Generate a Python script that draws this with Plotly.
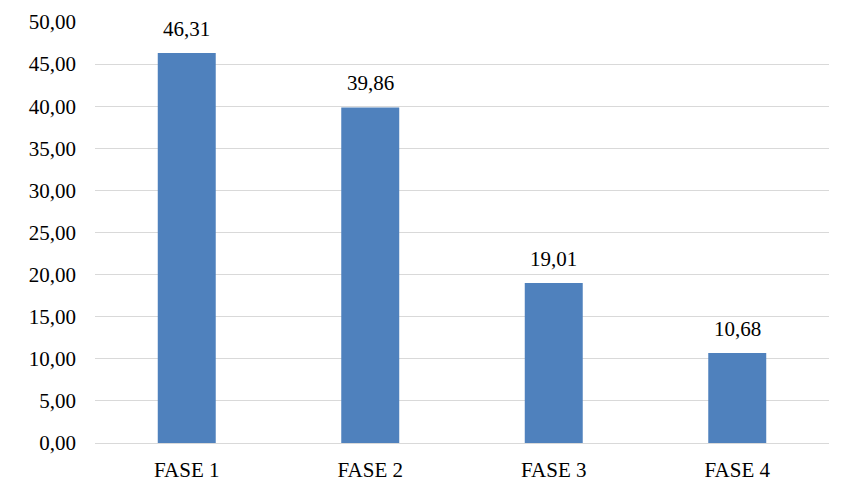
import plotly.graph_objects as go

categories = ["FASE 1", "FASE 2", "FASE 3", "FASE 4"]
values = [46.31, 39.86, 19.01, 10.68]
y_ticks = [0, 5, 10, 15, 20, 25, 30, 35, 40, 45, 50]

FONT = "Liberation Serif, Times New Roman, serif"

fig = go.Figure()
fig.add_trace(go.Bar(
    x=categories,
    y=values,
    marker=dict(color="#4F81BD", line=dict(width=0)),
    width=0.316,
    hoverinfo="skip",
))

for c, v in zip(categories, values):
    fig.add_annotation(
        x=c, y=v, text=f"{v:.2f}".replace(".", ","),
        showarrow=False, yanchor="bottom", yshift=10,
        font=dict(family=FONT, size=21, color="#000000"),
    )

fig.update_layout(
    width=846, height=478,
    margin=dict(l=87, r=25, t=14, b=43, autoexpand=False),
    paper_bgcolor="white",
    plot_bgcolor="white",
    separators=",.",
    showlegend=False,
    font=dict(family=FONT, size=21, color="#000000"),
    xaxis=dict(
        showgrid=False, showline=False, zeroline=False,
        ticks="", ticklabelstandoff=12, automargin=False,
        tickfont=dict(family=FONT, size=21, color="#000000"),
    ),
    yaxis=dict(
        range=[0, 50], tickvals=y_ticks, tickformat=".2f",
        showgrid=True, gridcolor="#D9D9D9", gridwidth=1,
        zeroline=True, zerolinecolor="#D9D9D9", zerolinewidth=1,
        showline=False, ticks="", ticklabelstandoff=18, automargin=False,
        tickfont=dict(family=FONT, size=21, color="#000000"),
    ),
)

fig.write_html("out.html")
